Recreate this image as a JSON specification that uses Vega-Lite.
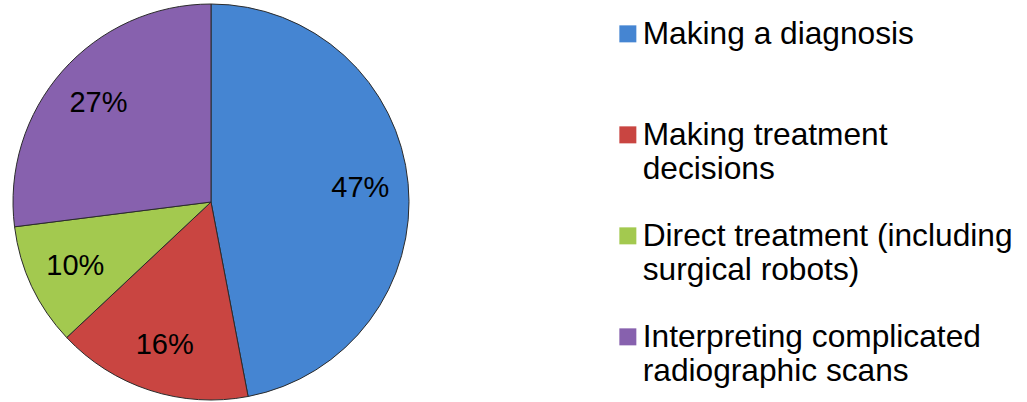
{
  "$schema": "https://vega.github.io/schema/vega-lite/v6.json",
  "width": 422,
  "height": 400,
  "autosize": "none",
  "padding": {"left": 0, "top": 2, "right": 605, "bottom": 0},
  "background": "white",
  "view": {"stroke": null},
  "data": {
    "values": [
      {"category": "Making a diagnosis", "value": 47, "label": "47%", "order": 1},
      {"category": "Making treatment decisions", "value": 16, "label": "16%", "order": 2},
      {"category": "Direct treatment (including surgical robots)", "value": 10, "label": "10%", "order": 3},
      {"category": "Interpreting complicated radiographic scans", "value": 27, "label": "27%", "order": 4}
    ]
  },
  "encoding": {
    "theta": {"field": "value", "type": "quantitative", "stack": true},
    "order": {"field": "order", "type": "quantitative"},
    "color": {
      "field": "category",
      "type": "nominal",
      "sort": ["Making a diagnosis", "Making treatment decisions", "Direct treatment (including surgical robots)", "Interpreting complicated radiographic scans"],
      "scale": {
        "domain": ["Making a diagnosis", "Making treatment decisions", "Direct treatment (including surgical robots)", "Interpreting complicated radiographic scans"],
        "range": ["#4585D2", "#C94541", "#A3C94F", "#8761AE"]
      },
      "legend": {
        "orient": "none",
        "legendX": 612,
        "legendY": 16,
        "title": null,
        "symbolType": "square",
        "symbolSize": 289,
        "symbolStrokeWidth": 0,
        "symbolOpacity": 1,
        "labelFont": "Liberation Sans",
        "labelFontSize": 31.7,
        "labelColor": "black",
        "labelOffset": -1,
        "labelLimit": 500,
        "rowPadding": 34,
        "labelExpr": "datum.label == 'Making treatment decisions' ? ['Making treatment', 'decisions'] : datum.label == 'Direct treatment (including surgical robots)' ? ['Direct treatment (including', 'surgical robots)'] : datum.label == 'Interpreting complicated radiographic scans' ? ['Interpreting complicated', 'radiographic scans'] : [datum.label, ' ']"
      }
    }
  },
  "layer": [
    {
      "mark": {"type": "arc", "outerRadius": 198, "stroke": "#2b2b2b", "strokeWidth": 1}
    },
    {
      "mark": {"type": "text", "radius": 150, "fontSize": 29, "font": "Liberation Sans", "color": "black"},
      "encoding": {
        "text": {"field": "label"},
        "color": {"value": "black"}
      }
    }
  ]
}
